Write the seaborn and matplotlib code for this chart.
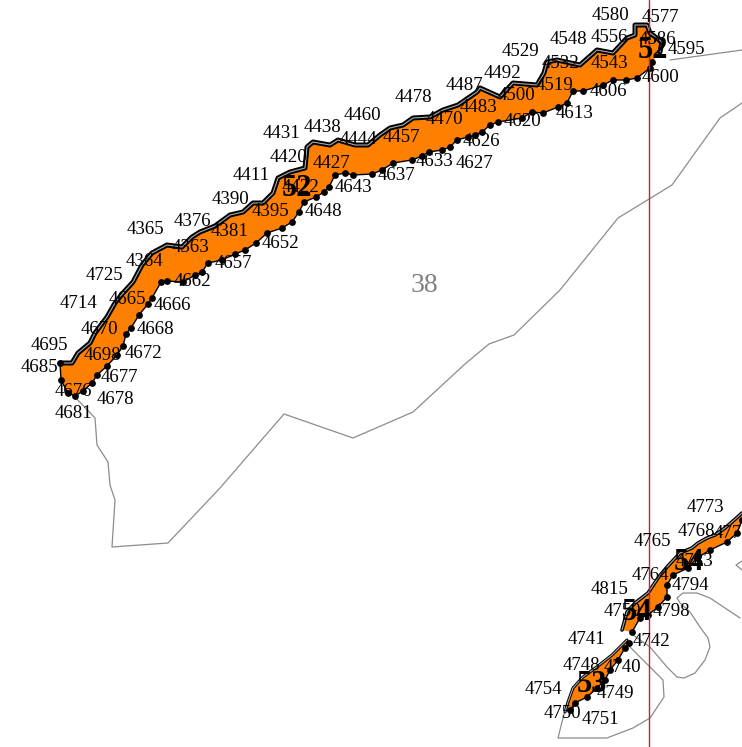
import matplotlib
matplotlib.use("Agg")
import matplotlib.pyplot as plt
import seaborn as sns

sns.set_theme(style="white")
plt.rcParams['font.family'] = ['Liberation Serif', 'DejaVu Serif']

# Main strip (zone 52)
top_x = [60,72,78,90,95,107,115,123,133,142,152,167,182,192,200,215,230,243,253,263,273,278,290,305,307,313,330,338,355,368,380,390,403,413,430,443,458,477,480,500,513,537,544,547,557,580,597,613,627,635,635,647,650,662,660]
top_y = [363,363,353,343,333,317,303,293,282,265,253,245,247,237,232,226,215,212,203,203,193,178,172,168,147,142,145,140,145,145,135,128,125,118,117,110,105,92,88,97,83,85,73,62,60,65,50,53,38,35,25,25,33,42,52]
bot_x = [652,650,637,626,613,603,583,573,567,558,543,532,522,498,490,482,475,468,457,450,442,429,422,412,393,382,372,353,345,335,329,324,316,304,299,292,282,267,256,245,235,222,208,202,195,183,167,161,152,148,139,131,126,123,117,107,97,92,83,75,68,61,60]
bot_y = [62,68,78,80,80,85,91,91,103,107,113,112,118,122,125,132,135,137,140,147,150,152,156,160,163,170,174,175,173,175,187,192,197,202,212,222,228,233,243,250,254,260,263,272,275,282,281,282,298,304,315,328,334,346,355,366,375,383,391,396,393,380,363]

# Zone 54 strip
z54_top_x = [742,732,725,715,707,698,692,680,667,658,648,635,627,622]
z54_top_y = [513,522,528,535,538,543,548,553,567,578,593,603,612,630]
z54_bot_x = [632,640,648,658,667,667,673,688,697,710,727,737,742]
z54_bot_y = [632,618,615,607,597,585,575,568,558,550,542,533,520]

# Zone 53 strip
z53_top_x = [627,612,598,583,573,568,565]
z53_top_y = [640,655,666,677,688,702,712]
z53_bot_x = [570,575,587,597,605,610,618,625,629]
z53_bot_y = [710,703,697,688,680,670,660,648,643]

# Thin grey boundaries
grey_a_x = [74,95,97,108,110,115,112,168,220,284,353,413,465,489,514,560,618,672,720,742]
grey_a_y = [396,418,445,462,485,500,547,543,488,414,438,412,364,344,335,290,218,185,118,103]
grey_b_x = [670,742]
grey_b_y = [60,50]
grey_c_x = [628,663,664,650,633,607,558,565]
grey_c_y = [645,680,697,718,728,738,738,710]
grey_d_x = [633,650,667,677,684,695,705,710,708,700,690,680,677,683,697,710,740]
grey_d_y = [635,647,667,677,678,673,660,647,638,627,612,603,598,593,593,598,618]
grey_e_x = [742,736,742]
grey_e_y = [561,565,570]

red_x = [649,649]
red_y = [0,747]

node_labels = ["4580","4577","4548","4556","4529","4595","4492","4532","4543","4600","4487","4519","4606","4500","4478","4483","4613","4470","4460","4620","4438","4431","4444","4457","4626","4420","4427","4633","4627","4637","4643","4411","4422","4390","4395","4648","4376","4381","4365","4652","4363","4364","4657","4725","4662","4666","4714","4665","4670","4668","4695","4698","4672","4685","4677","4676","4678","4681","4586",
               "4773","4768","4771","4765","4783","4764","4794","4815","4798","4759","4741","4742","4748","4740","4749","4754","4750","4751"]
node_x = [611,660,568,609,520,686,502,561,609,660,464,555,608,517,413,478,575,444,362,523,322,282,358,401,481,288,331,434,474,396,353,251,300,231,270,323,192,230,145,280,190,144,233,104,192,172,79,127,99,155,49,102,143,39,119,73,115,74,657,
          705,696,733,652,694,650,690,610,671,622,587,651,581,622,615,543,562,600]
node_y = [15,18,40,38,51,50,73,63,64,77,85,86,91,96,98,108,114,120,115,122,128,134,140,138,141,158,164,161,163,175,187,175,188,199,212,212,221,231,229,244,247,262,264,275,282,305,304,299,329,329,346,356,354,368,377,391,400,413,39,
          508,531,533,542,562,576,586,589,612,612,640,642,665,667,694,690,713,719]

zone_labels = ["52","52","54","54","53"]
zone_x = [297,653,689,637,592]
zone_y = [189,50,562,613,684]
region_label = "38"
region_x = 424
region_y = 286

ORANGE = "#ff7f00"
GREY = "#8c8c8c"

fig, ax = plt.subplots(figsize=(7.42, 7.47), dpi=100)
fig.subplots_adjust(0, 0, 1, 1)


def path(xs, ys, color, lw, z):
    sns.lineplot(x=xs, y=ys, sort=False, estimator=None, color=color, linewidth=lw,
                 ax=ax, zorder=z, legend=False, solid_joinstyle="round", solid_capstyle="round")


for xs, ys in [(grey_a_x, grey_a_y), (grey_b_x, grey_b_y), (grey_c_x, grey_c_y),
               (grey_d_x, grey_d_y), (grey_e_x, grey_e_y)]:
    path(xs, ys, GREY, 0.9, 1)

for tx, ty, bx, by, w in [(top_x, top_y, bot_x, bot_y, 3.6),
                          (z54_top_x, z54_top_y, z54_bot_x, z54_bot_y, 2.6),
                          (z53_top_x, z53_top_y, z53_bot_x, z53_bot_y, 2.2)]:
    ax.fill(tx + bx, ty + by, color=ORANGE, zorder=2, linewidth=0)
    path(bx, by, "black", 1.0, 3)
    path(tx, ty, "black", w, 3)
    path(tx, ty, "#a8a8a8", 0.8, 4)
    sns.scatterplot(x=bx, y=by, color="black", s=24, linewidth=0, ax=ax, zorder=5, legend=False)

path(red_x, red_y, "#d8182e", 1.0, 6)

for s, x, y in zip(node_labels, node_x, node_y):
    ax.text(x, y, s, fontsize=13.6, color="black", ha="center", va="center", zorder=7, clip_on=True)
for s, x, y in zip(zone_labels, zone_x, zone_y):
    ax.text(x, y, s, fontsize=22, color="black", fontweight="bold", ha="center", va="center", zorder=8)
ax.text(region_x, region_y, region_label, fontsize=20, color="#808080", ha="center", va="center", zorder=7)

ax.set_xlim(0, 742)
ax.set_ylim(747, 0)
ax.axis("off")
fig.savefig("out.png", dpi=100, facecolor="white")
